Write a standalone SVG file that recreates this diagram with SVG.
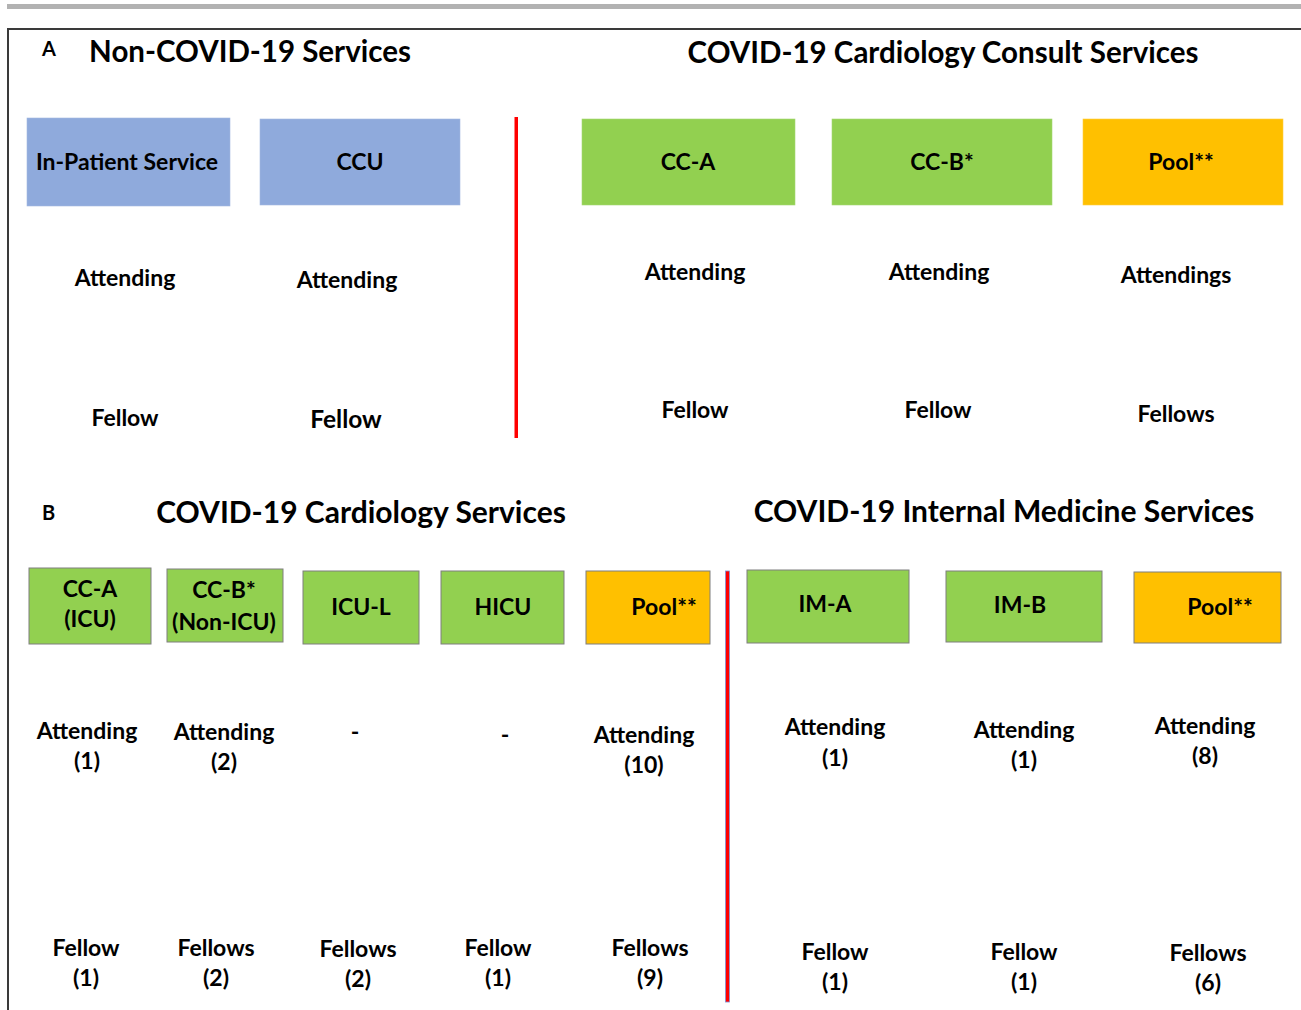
<svg xmlns="http://www.w3.org/2000/svg" width="1301" height="1010" viewBox="0 0 1301 1010">
<style>
text{font-family:Lato,"Open Sans","Liberation Sans",sans-serif;font-weight:bold;fill:#000;text-anchor:middle}
.titleA{font-size:29.5px}
.titleB{font-size:30px}
.lbl{font-size:23px}
.letter{font-size:20px;text-anchor:start}
.blue{fill:#8faadc;stroke:#a3b8e0;stroke-width:0.6}
.greenA{fill:#92d050;stroke:#a6d873;stroke-width:0.6}
.orangeA{fill:#ffc000;stroke:#ffcc40;stroke-width:0.6}
.green{fill:#92d050;stroke:#7f7f7f;stroke-width:1}
.orange{fill:#ffc000;stroke:#7f7f7f;stroke-width:1}
</style>
<rect width="1301" height="1010" fill="#fff"/>
<g id="frame">
<rect x="7" y="4" width="1294" height="5" fill="#b2b2b2"/>
<line x1="7" y1="29" x2="1301" y2="29" stroke="#3a3a3a" stroke-width="2"/>
<line x1="8" y1="28" x2="8" y2="1010" stroke="#3a3a3a" stroke-width="2"/>
</g>
<g id="headings">
<text class="letter" x="42" y="56">A</text>
<text class="titleA" x="250" y="62">Non-COVID-19 Services</text>
<text class="titleA" x="943" y="63">COVID-19 Cardiology Consult Services</text>
<text class="letter" x="42" y="520">B</text>
<text class="titleB" x="361" y="523">COVID-19 Cardiology Services</text>
<text class="titleB" x="1004" y="522">COVID-19 Internal Medicine Services</text>
</g>
<g id="dividers">
<rect x="514.5" y="117" width="3.5" height="321" fill="#ff0000"/>
<rect x="725.6" y="571" width="3.8" height="431" fill="#ff0000" stroke="#7d8fd0" stroke-width="0.8"/>
</g>
<g id="connectors"></g>
<g id="node-inpatient">
<rect class="blue" x="27" y="118" width="203" height="88"/>
<text class="lbl" x="127" y="170">In-Patient Service</text>
<text class="lbl" x="125" y="286">Attending</text>
<text class="lbl" x="125" y="426">Fellow</text>
</g>
<g id="node-ccu">
<rect class="blue" x="260" y="119" width="200" height="86"/>
<text class="lbl" x="360" y="170">CCU</text>
<text class="lbl" x="347" y="288">Attending</text>
<text class="lbl" x="346" y="428" style="font-size:24.5px">Fellow</text>
</g>
<g id="node-consult-cca">
<rect class="greenA" x="582" y="119" width="213" height="86"/>
<text class="lbl" x="688" y="170">CC-A</text>
<text class="lbl" x="695" y="280">Attending</text>
<text class="lbl" x="695" y="418">Fellow</text>
</g>
<g id="node-consult-ccb">
<rect class="greenA" x="832" y="119" width="220" height="86"/>
<text class="lbl" x="942" y="170">CC-B*</text>
<text class="lbl" x="939" y="280">Attending</text>
<text class="lbl" x="938" y="418">Fellow</text>
</g>
<g id="node-consult-pool">
<rect class="orangeA" x="1083" y="119" width="200" height="86"/>
<text class="lbl" x="1181" y="170">Pool**</text>
<text class="lbl" x="1176" y="283">Attendings</text>
<text class="lbl" x="1176" y="422">Fellows</text>
</g>
<g id="node-cca-icu">
<rect class="green" x="29" y="568" width="122" height="76"/>
<text class="lbl" x="90" y="597">CC-A</text>
<text class="lbl" x="90" y="627">(ICU)</text>
<text class="lbl" x="87" y="739">Attending</text>
<text class="lbl" x="87" y="769">(1)</text>
<text class="lbl" x="86" y="956">Fellow</text>
<text class="lbl" x="86" y="986">(1)</text>
</g>
<g id="node-ccb-nonicu">
<rect class="green" x="167" y="569" width="116" height="73"/>
<text class="lbl" x="224" y="598">CC-B*</text>
<text class="lbl" x="224" y="630">(Non-ICU)</text>
<text class="lbl" x="224" y="740">Attending</text>
<text class="lbl" x="224" y="770">(2)</text>
<text class="lbl" x="216" y="956">Fellows</text>
<text class="lbl" x="216" y="986">(2)</text>
</g>
<g id="node-icul">
<rect class="green" x="303" y="571" width="116" height="73"/>
<text class="lbl" x="361" y="615">ICU-L</text>
<text class="lbl" x="355" y="740">-</text>
<text class="lbl" x="358" y="957">Fellows</text>
<text class="lbl" x="358" y="987">(2)</text>
</g>
<g id="node-hicu">
<rect class="green" x="441" y="571" width="123" height="73"/>
<text class="lbl" x="503" y="615">HICU</text>
<text class="lbl" x="505" y="743">-</text>
<text class="lbl" x="498" y="956">Fellow</text>
<text class="lbl" x="498" y="986">(1)</text>
</g>
<g id="node-cardio-pool">
<rect class="orange" x="586" y="571" width="124" height="73"/>
<text class="lbl" x="664" y="615">Pool**</text>
<text class="lbl" x="644" y="743">Attending</text>
<text class="lbl" x="644" y="773">(10)</text>
<text class="lbl" x="650" y="956">Fellows</text>
<text class="lbl" x="650" y="986">(9)</text>
</g>
<g id="node-ima">
<rect class="green" x="747" y="570" width="162" height="73"/>
<text class="lbl" x="825" y="612">IM-A</text>
<text class="lbl" x="835" y="735">Attending</text>
<text class="lbl" x="835" y="766">(1)</text>
<text class="lbl" x="835" y="960">Fellow</text>
<text class="lbl" x="835" y="990">(1)</text>
</g>
<g id="node-imb">
<rect class="green" x="946" y="571" width="156" height="71"/>
<text class="lbl" x="1020" y="613">IM-B</text>
<text class="lbl" x="1024" y="738">Attending</text>
<text class="lbl" x="1024" y="768">(1)</text>
<text class="lbl" x="1024" y="960">Fellow</text>
<text class="lbl" x="1024" y="990">(1)</text>
</g>
<g id="node-im-pool">
<rect class="orange" x="1134" y="572" width="147" height="71"/>
<text class="lbl" x="1220" y="615">Pool**</text>
<text class="lbl" x="1205" y="734">Attending</text>
<text class="lbl" x="1205" y="764">(8)</text>
<text class="lbl" x="1208" y="961">Fellows</text>
<text class="lbl" x="1208" y="991">(6)</text>
</g>
</svg>
